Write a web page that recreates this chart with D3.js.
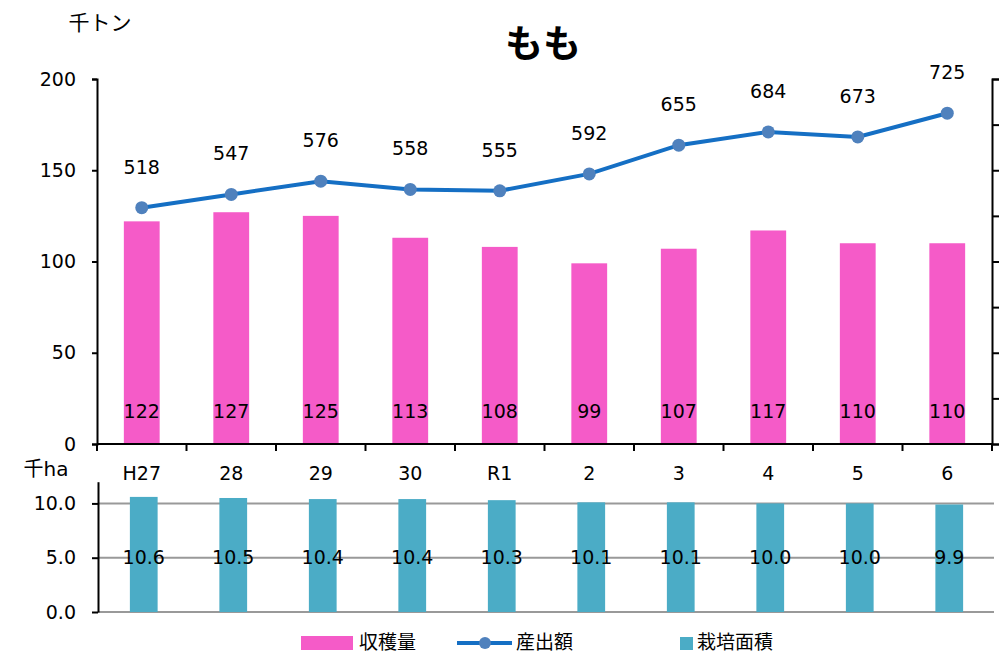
<!DOCTYPE html>
<html>
<head>
<meta charset="utf-8">
<script src="https://cdn.jsdelivr.net/npm/d3@7"></script>
<style>
  body { margin: 0; background: #fff; }
  text { font-family: "DejaVu Sans", "Noto Sans CJK JP", sans-serif; fill: #000; }
</style>
</head>
<body>
<div id="chart"></div>
<script>
// data
var years = ["H27", "28", "29", "30", "R1", "2", "3", "4", "5", "6"];
var harvest = [122, 127, 125, 113, 108, 99, 107, 117, 110, 110];   // 収穫量 (千トン)
var output = [518, 547, 576, 558, 555, 592, 655, 684, 673, 725];   // 産出額
var area = [10.6, 10.5, 10.4, 10.4, 10.3, 10.1, 10.1, 10.0, 10.0, 9.9]; // 栽培面積 (千ha)
var leftTicks = [0, 50, 100, 150, 200];
var areaTicks = [0, 5, 10];

var pink = "#f55bc8", teal = "#4bacc6", lineCol = "#156fc4", dotCol = "#4f81bd";

var svg = d3.select("#chart").append("svg")
  .attr("width", 1000)
  .attr("height", 659);

var left = 97, right = 992;

// scales
var xScale = d3.scaleBand().domain(years).range([left, right]).paddingInner(0.6).paddingOuter(0.3);
var xArea = d3.scaleBand().domain(years).range([left + 2, right + 2]).paddingInner(0.69).paddingOuter(0.345);
var yLeft = d3.scaleLinear().domain([0, 200]).range([444, 79]);
var yRight = d3.scaleLinear().domain([0, 800]).range([444, 79]);
var yArea = d3.scaleLinear().domain([0, 12]).range([612, 481.7]);

// title
svg.append("text")
  .attr("x", 543).attr("y", 57)
  .attr("text-anchor", "middle")
  .style("font-size", "38px").style("font-weight", "bold")
  .text("もも");

svg.append("text").attr("x", 100).attr("y", 30).attr("text-anchor", "middle")
  .style("font-size", "21px").text("千トン");

// bars top
svg.selectAll(".bar").data(harvest).enter().append("rect")
  .attr("x", (d, i) => xScale(years[i]))
  .attr("y", d => yLeft(d))
  .attr("width", xScale.bandwidth())
  .attr("height", d => yLeft(0) - yLeft(d))
  .attr("fill", pink);

svg.selectAll(".barlab").data(harvest).enter().append("text")
  .attr("x", (d, i) => xScale(years[i]) + xScale.bandwidth() / 2)
  .attr("y", 418)
  .attr("text-anchor", "middle")
  .style("font-size", "19px")
  .text(d => d);

// left axis
var yAxis = svg.append("g")
  .attr("transform", `translate(${left},0)`)
  .call(d3.axisLeft(yLeft).tickValues(leftTicks).tickSize(5).tickPadding(16).tickSizeOuter(5));
yAxis.selectAll("text").style("font-size", "19px");
yAxis.selectAll("path, line").attr("stroke", "#000").attr("stroke-width", 2);

// right axis
var yAxisR = svg.append("g")
  .attr("transform", `translate(${right},0)`)
  .call(d3.axisRight(yRight).ticks(8).tickSize(7).tickFormat("").tickSizeOuter(7));
yAxisR.selectAll("path, line").attr("stroke", "#000").attr("stroke-width", 2);

// bottom axis line with boundary ticks
var bounds = years.map((d, i) => left + i * xScale.step()).concat([right]);
svg.append("line").attr("x1", left).attr("x2", right).attr("y1", 444).attr("y2", 444)
  .attr("stroke", "#000").attr("stroke-width", 2);
svg.selectAll(".btick").data(bounds).enter().append("line")
  .attr("x1", d => d).attr("x2", d => d).attr("y1", 444).attr("y2", 451)
  .attr("stroke", "#000").attr("stroke-width", 2);

// category labels
svg.selectAll(".cat").data(years).enter().append("text")
  .attr("x", d => xScale(d) + xScale.bandwidth() / 2)
  .attr("y", 480)
  .attr("text-anchor", "middle")
  .style("font-size", "19px")
  .text(d => d);

// line
var line = d3.line()
  .x((d, i) => xScale(years[i]) + xScale.bandwidth() / 2)
  .y(d => yRight(d));
svg.append("path").datum(output)
  .attr("d", line)
  .attr("fill", "none")
  .attr("stroke", lineCol)
  .attr("stroke-width", 4);
svg.selectAll(".dot").data(output).enter().append("circle")
  .attr("cx", (d, i) => xScale(years[i]) + xScale.bandwidth() / 2)
  .attr("cy", d => yRight(d))
  .attr("r", 6.5)
  .attr("fill", dotCol);
svg.selectAll(".dotlab").data(output).enter().append("text")
  .attr("x", (d, i) => xScale(years[i]) + xScale.bandwidth() / 2)
  .attr("y", d => yRight(d) - 34)
  .attr("text-anchor", "middle")
  .style("font-size", "19px")
  .text(d => d);

// lower panel
svg.append("text").attr("x", 46).attr("y", 476).attr("text-anchor", "middle")
  .style("font-size", "20px").text("千ha");

svg.selectAll(".grid").data(areaTicks).enter().append("line")
  .attr("x1", left + 1).attr("x2", 994)
  .attr("y1", d => yArea(d)).attr("y2", d => yArea(d))
  .attr("stroke", "#999").attr("stroke-width", 2);

svg.selectAll(".abar").data(area).enter().append("rect")
  .attr("x", (d, i) => xArea(years[i]))
  .attr("y", d => yArea(d))
  .attr("width", xArea.bandwidth())
  .attr("height", d => yArea(0) - yArea(d))
  .attr("fill", teal);

svg.selectAll(".alab").data(area).enter().append("text")
  .attr("x", (d, i) => xArea(years[i]) + xArea.bandwidth() / 2)
  .attr("y", 564)
  .attr("text-anchor", "middle")
  .style("font-size", "19px")
  .text(d => d3.format(".1f")(d));

var aAxis = svg.append("g")
  .attr("transform", `translate(${left + 1},0)`)
  .call(d3.axisLeft(yArea).tickValues(areaTicks).tickSize(6).tickPadding(16).tickSizeOuter(0).tickFormat(d3.format(".1f")));
aAxis.selectAll("text").style("font-size", "19px");
aAxis.selectAll("path, line").attr("stroke", "#000").attr("stroke-width", 2);

// legend
var lg = svg.append("g");
lg.append("rect").attr("x", 301).attr("y", 636).attr("width", 52).attr("height", 14).attr("fill", pink);
lg.append("text").attr("x", 359).attr("y", 649).style("font-size", "19px").text("収穫量");
lg.append("line").attr("x1", 457).attr("x2", 512).attr("y1", 643).attr("y2", 643)
  .attr("stroke", lineCol).attr("stroke-width", 4);
lg.append("circle").attr("cx", 485).attr("cy", 643).attr("r", 6).attr("fill", dotCol);
lg.append("text").attr("x", 516).attr("y", 649).style("font-size", "19px").text("産出額");
lg.append("rect").attr("x", 680).attr("y", 637).attr("width", 13).attr("height", 13).attr("fill", teal);
lg.append("text").attr("x", 697).attr("y", 649).style("font-size", "19px").text("栽培面積");
</script>
</body>
</html>
